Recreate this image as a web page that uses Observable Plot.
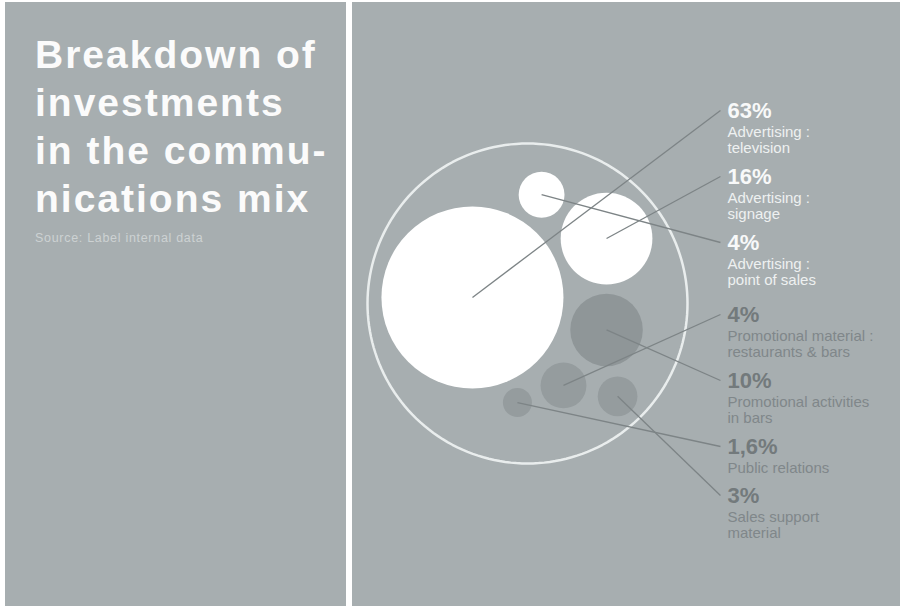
<!DOCTYPE html>
<html>
<head>
<meta charset="utf-8">
<script src="https://cdn.jsdelivr.net/npm/d3@7"></script>
<script src="https://cdn.jsdelivr.net/npm/@observablehq/plot@0.6"></script>
<style>
html, body { margin: 0; padding: 0; background: #ffffff; }
#page { position: relative; width: 902px; height: 606px; background: #ffffff; overflow: hidden;
  font-family: "Liberation Sans", Arial, Helvetica, sans-serif; }
#left { position: absolute; left: 5px; top: 2px; width: 341px; height: 604px; background: #a7aeb0; }
#right { position: absolute; left: 352px; top: 2px; width: 548px; height: 604px; background: #a7aeb0; }
#title { position: absolute; left: 30px; top: 29px; margin: 0; color: #fbfbfb; font-weight: bold;
  font-size: 39px; line-height: 48px; letter-spacing: 2px; white-space: nowrap; }
#source { position: absolute; left: 30px; top: 230px; color: #cdd2d3; font-size: 12.5px; line-height: 1;
  letter-spacing: 0.7px; white-space: nowrap; }
#right svg { display: block; }
</style>
</head>
<body>
<div id="page">
  <div id="left">
    <h1 id="title"></h1>
    <div id="source"></div>
  </div>
  <div id="right"></div>
</div>
<script>
// ---- data ----
const titleLines = ["Breakdown of", "investments", "in the commu-", "nications mix"];
const sourceText = "Source: Label internal data";
const categories = [
  "Advertising :\ntelevision",
  "Advertising :\nsignage",
  "Advertising :\npoint of sales",
  "Promotional material :\nrestaurants & bars",
  "Promotional activities\nin bars",
  "Public relations",
  "Sales support\nmaterial"
];
const shares = [63, 16, 4, 4, 10, 1.6, 3];
const shareLabels = ["63%", "16%", "4%", "4%", "10%", "1,6%", "3%"];
const groups = ["advertising", "advertising", "advertising", "promotion", "promotion", "promotion", "promotion"];
// bubble placement inside the enclosing circle (unit radius)
const layoutX = [-0.344, 0.494, 0.088, 0.225, 0.494, -0.063, 0.563];
const layoutY = [0.038, 0.406, 0.68, -0.512, -0.165, -0.619, -0.58];

// ---- text panel ----
document.getElementById("title").innerHTML = titleLines.join("<br>");
document.getElementById("source").textContent = sourceText;

// ---- chart layout ----
const W = 548, H = 604;
const R_PX = 160;              // px of one layout unit (enclosing circle radius)
const CX = 175, CY = 301;      // centre of enclosing circle in the svg
const LABEL_X = 1.25;          // label column, layout units
const LINE_END_X = 1.206;

// stack the labels down the right column
let cursor = 115;              // first percentage baseline, svg px
const data = categories.map((c, i) => {
  const nLines = c.split("\n").length;
  if (i > 0 && groups[i] !== groups[i - 1]) cursor += 6;
  const ly = (CY - cursor) / R_PX;
  cursor += 32 + 17 * nLines;
  return {category: c, share: shares[i], label: shareLabels[i], group: groups[i],
          x: layoutX[i], y: layoutY[i], ly};
});

const ring = d3.range(0, 361, 2).map(a => ({x: Math.cos(a * Math.PI / 180), y: Math.sin(a * Math.PI / 180)}));

const isAd = d => d.group === "advertising";

const chart = Plot.plot({
  width: W,
  height: H,
  margin: 0,
  style: {background: "transparent", fontFamily: "Liberation Sans, Arial, Helvetica, sans-serif", overflow: "visible"},
  x: {axis: null, domain: [-1, 1], range: [CX - R_PX, CX + R_PX]},
  y: {axis: null, domain: [-1, 1], range: [CY + R_PX, CY - R_PX]},
  r: {type: "sqrt", domain: [0, 63], range: [0, 91]},
  marks: [
    Plot.line(ring, {x: "x", y: "y", curve: "linear-closed", stroke: "#e9eded", strokeWidth: 2.5}),
    Plot.dot(data, {x: "x", y: "y", r: "share", fill: d => isAd(d) ? "#ffffff" : (d.share >= 10 ? "#8f9698" : "#959c9e"), stroke: "none"}),
    Plot.link(data, {x1: "x", y1: "y", x2: LINE_END_X, y2: d => d.ly + 7 / R_PX, stroke: "#7d8486", strokeWidth: 1.3}),
    Plot.text(data, {x: LABEL_X, y: "ly", text: "label", textAnchor: "start", lineAnchor: "bottom",
      fontSize: 22, fontWeight: "bold", fill: d => isAd(d) ? "#f8f9f9" : "#737a7c", ariaLabel: "share-label"}),
    Plot.text(data, {x: LABEL_X, y: "ly", text: "category", textAnchor: "start", lineAnchor: "top", dy: 7,
      fontSize: 15, lineHeight: 1.13, fill: d => isAd(d) ? "#eef1f1" : "#80878a", ariaLabel: "category-label"})
  ]
});
document.getElementById("right").appendChild(chart);
d3.select(chart).selectAll('g[aria-label="share-label"] text').style("letter-spacing", "2.5px");
d3.select(chart).selectAll('g[aria-label="category-label"] text').style("letter-spacing", "0.4px");
</script>
</body>
</html>
